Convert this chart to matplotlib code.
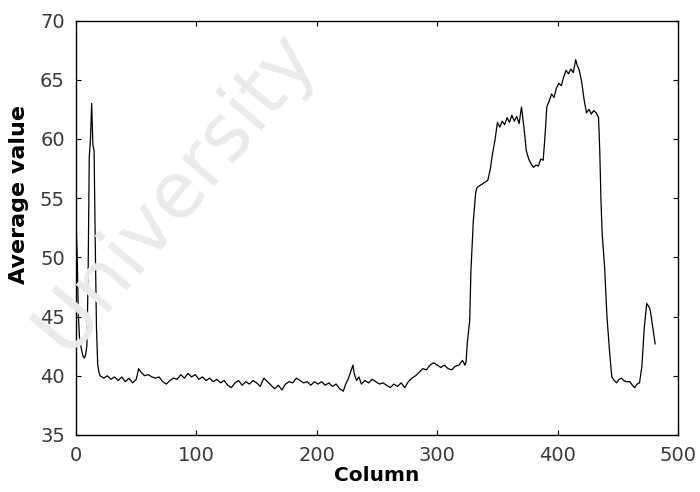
import matplotlib
matplotlib.use("Agg")
import matplotlib.pyplot as plt

# Column index and average value
columns = [0, 1, 2, 3, 4, 5, 6, 7, 8, 9, 10, 11, 12, 13, 14, 15, 16, 17, 18, 19,
           20, 23, 26, 29, 32, 35, 38, 41, 44, 47, 50, 52, 54, 57, 60, 63, 66, 69, 72, 75,
           78, 81, 84, 87, 90, 93, 96, 99, 102, 105, 108, 111, 114, 117, 120, 123, 126, 129, 132, 135,
           138, 141, 144, 147, 150, 153, 156, 159, 162, 165, 168, 171, 174, 177, 180, 183, 186, 189, 192, 195,
           198, 201, 204, 207, 210, 213, 216, 219, 222, 224, 226, 228, 230, 231, 233, 235, 237, 240, 243, 246,
           249, 252, 255, 258, 261, 264, 267, 270, 273, 276, 279, 282, 285, 288, 291, 294, 297, 300, 303, 306,
           309, 312, 315, 318, 321, 323, 324, 325, 327, 328, 330, 332, 333, 336, 339, 342, 344, 346, 348, 350,
           352, 354, 356, 358, 360, 362, 364, 366, 368, 370, 372, 374, 376, 378, 380, 382, 384, 386, 388, 389,
           390, 391, 393, 395, 397, 399, 401, 403, 405, 407, 409, 411, 413, 415, 416, 418, 420, 422, 424, 426,
           428, 430, 432, 434, 435, 436, 437, 439, 441, 443, 445, 447, 449, 451, 453, 455, 457, 460, 462, 464,
           466, 468, 470, 471, 472, 474, 476, 477, 479, 481]
avg_values = [53.0, 50.0, 45.0, 43.0, 42.5, 42.0, 41.6, 41.5, 41.8, 42.5, 48.0, 58.5, 60.0, 63.0, 59.5, 59.0, 51.0, 44.0, 41.0, 40.3,
              40.0, 39.8, 40.0, 39.7, 39.9, 39.6, 39.9, 39.5, 39.8, 39.4, 39.7, 40.6, 40.3, 40.0, 40.1, 39.9, 39.8, 39.9, 39.5, 39.3,
              39.6, 39.8, 39.7, 40.1, 39.8, 40.2, 39.9, 40.1, 39.7, 39.9, 39.6, 39.8, 39.5, 39.7, 39.4, 39.6, 39.2, 39.0, 39.4, 39.6,
              39.2, 39.5, 39.3, 39.6, 39.4, 39.1, 39.8, 39.5, 39.2, 38.9, 39.2, 38.8, 39.3, 39.5, 39.4, 39.8, 39.6, 39.4, 39.5, 39.2,
              39.5, 39.3, 39.5, 39.2, 39.4, 39.1, 39.3, 38.9, 38.7, 39.3, 39.7, 40.3, 40.9, 40.2, 39.6, 39.9, 39.3, 39.6, 39.4, 39.7,
              39.5, 39.3, 39.4, 39.2, 39.0, 39.3, 39.1, 39.4, 39.0, 39.5, 39.8, 40.0, 40.3, 40.6, 40.5, 40.9, 41.1, 40.9, 40.7, 40.9,
              40.6, 40.5, 40.8, 40.9, 41.3, 40.9, 41.2, 42.8, 44.7, 48.9, 53.1, 55.5, 55.9, 56.1, 56.3, 56.5, 57.4, 58.8, 59.9, 61.4,
              61.0, 61.5, 61.2, 61.8, 61.4, 62.0, 61.5, 61.9, 61.3, 62.7, 61.0, 59.0, 58.3, 57.9, 57.6, 57.8, 57.7, 58.3, 58.2, 59.5,
              61.0, 62.7, 63.2, 63.8, 63.5, 64.3, 64.7, 64.5, 65.2, 65.8, 65.5, 65.9, 65.6, 66.7, 66.3, 65.8, 64.8, 63.3, 62.2, 62.5,
              62.1, 62.4, 62.2, 61.8, 59.0, 54.8, 52.0, 49.2, 45.0, 42.2, 39.9, 39.6, 39.4, 39.7, 39.8, 39.6, 39.5, 39.5, 39.2, 39.0,
              39.3, 39.4, 40.8, 42.5, 44.1, 46.1, 45.8, 45.5, 44.1, 42.7]

x_ticks = [0, 100, 200, 300, 400, 500]
y_ticks = [35, 40, 45, 50, 55, 60, 65, 70]

fig = plt.figure(figsize=(7.0, 4.92), dpi=100)
fig.patch.set_facecolor("white")

# watermark text
fig.text(0.25, 0.61, "University", fontsize=56, color="#ebebeb", rotation=50,
         ha="center", va="center", zorder=0, family="DejaVu Sans")

ax = fig.add_axes([0.1086, 0.1159, 0.8600, 0.8424])
ax.patch.set_alpha(0)
ax.plot(columns, avg_values, color="black", linewidth=0.9)

ax.set_xlim(0, 500)
ax.set_ylim(35, 70)
ax.set_xticks(x_ticks)
ax.set_yticks(y_ticks)
ax.tick_params(direction="in", length=3.5, width=0.8, top=True, right=True,
               labelsize=14, labelcolor="#3a3a3a", pad=8)
for s in ax.spines.values():
    s.set_linewidth(1.0)
    s.set_color("black")

ax.set_xlabel("Column", fontsize=14.5, fontweight="bold", labelpad=1)
ax.set_ylabel("Average value", fontsize=16, fontweight="bold")
ax.yaxis.set_label_coords(-0.078, 0.58)

fig.savefig("out.png", dpi=100, facecolor="white")
